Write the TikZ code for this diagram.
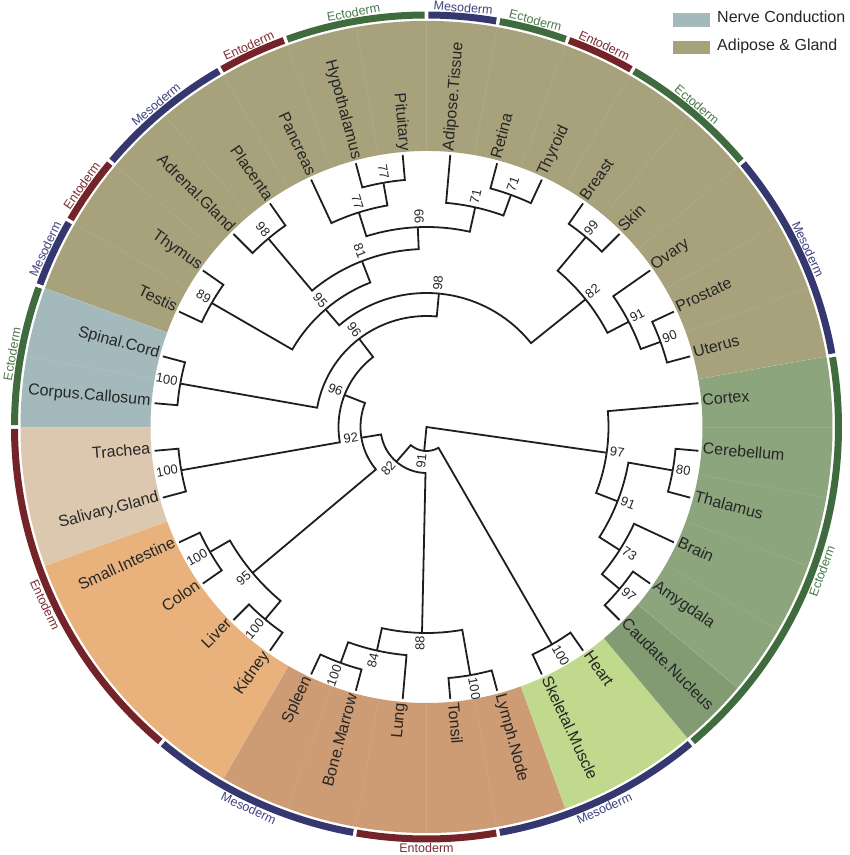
\documentclass[tikz,border=0pt]{standalone}
\usepackage{fontspec}
\setmainfont{Liberation Sans}
\definecolor{treeC}{HTML}{1E1E1E}
\definecolor{leafC}{HTML}{262626}
\definecolor{nerveC}{HTML}{A4B9BC}
\definecolor{adipC}{HTML}{A7A27B}
\definecolor{tanC}{HTML}{DCC8AF}
\definecolor{orangeC}{HTML}{E9B17B}
\definecolor{brownC}{HTML}{CD9B74}
\definecolor{lgreenC}{HTML}{C0D98D}
\definecolor{greenC}{HTML}{8CA57C}
\definecolor{greenD}{HTML}{839B73}
\definecolor{ectoC}{HTML}{3F6B3F}
\definecolor{mesoC}{HTML}{35386E}
\definecolor{entoC}{HTML}{742328}
\definecolor{ectoT}{HTML}{4A7A4A}
\definecolor{mesoT}{HTML}{3F4280}
\definecolor{entoT}{HTML}{7D2D33}
\newcommand\brch[4]{\draw[branch] (#1) -- ({#2}:{#3}) arc[start angle={#2}, end angle={#4}, radius={#3}];}
\newcommand\leafR[3]{\coordinate (t#1) at ({#2}:273); \node[leaf, rotate={#2}, anchor=mid west] (l#1) at ({#2}:277) {#3};}
\newcommand\leafL[3]{\coordinate (t#1) at ({#2}:273); \node[leaf, rotate={#2+180}, anchor=mid east] (l#1) at ({#2}:277) {#3};}
\newcommand\bootR[4]{\coordinate (#1) at ({#2}:{#3}); \node[boot, rotate={#2}, anchor=mid west] (b#1) at ({#2}:{#3+3}) {#4};}
\newcommand\bootL[4]{\coordinate (#1) at ({#2}:{#3}); \node[boot, rotate={#2+180}, anchor=mid east] (b#1) at ({#2}:{#3+3}) {#4};}
\newcommand\mysector[3]{\fill[#3] ({#1}:276) arc[start angle={#1}, end angle={#2}, radius=276] -- ({#2}:406) arc[start angle={#2}, end angle={#1}, radius=406] -- cycle;}
\newcommand\myring[3]{\draw[line width=7pt, draw=#3] ({#1+0.25}:412) arc[start angle={#1+0.25}, end angle={#2-0.25}, radius=412];}
\newcommand\germT[4]{\node[germ, text=#4, rotate={#2-90}, anchor=base] (#1) at ({#2}:416.5) {#3};}
\newcommand\germB[4]{\node[germ, text=#4, rotate={#2+90}, anchor=north] (#1) at ({#2}:416) {#3};}
\begin{document}
\begin{tikzpicture}[x=1pt,y=1pt,
  branch/.style={draw=treeC, line width=1.8pt, line join=miter},
  leaf/.style={font=\fontsize{16}{18}\selectfont, text=leafC, inner sep=0pt},
  boot/.style={font=\fontsize{13}{14}\selectfont, text=leafC, inner sep=0pt},
  germ/.style={font=\fontsize{12.5}{14}\selectfont, inner sep=0pt},
  sepline/.style={draw=white, opacity=0.12, line width=0.5pt},
  legbox/.style={minimum width=37pt, minimum height=14pt, inner sep=0pt, draw=none},
  legtext/.style={font=\fontsize{16}{18}\selectfont, text=leafC, inner sep=0pt, anchor=mid west}
]
\useasboundingbox (-426.5,-428) rectangle (423.5,427);
% coloured sectors
\mysector{10}{160}{adipC}
\mysector{160}{180}{nerveC}
\mysector{180}{200}{tanC}
\mysector{200}{240}{orangeC}
\mysector{240}{290}{brownC}
\mysector{290}{310}{lgreenC}
\mysector{310}{320}{greenD}
\mysector{320}{370}{greenC}
\foreach \a in {10,20,...,360} \draw[sepline] (\a:277) -- (\a:405);
% germ layer ring
\myring{-50}{10}{ectoC}
\myring{280}{310}{mesoC}
\myring{260}{280}{entoC}
\myring{230}{260}{mesoC}
\myring{180}{230}{entoC}
\myring{160}{180}{ectoC}
\myring{150}{160}{mesoC}
\myring{140}{150}{entoC}
\myring{120}{140}{mesoC}
\myring{110}{120}{entoC}
\myring{90}{110}{ectoC}
\myring{80}{90}{mesoC}
\myring{70}{80}{ectoC}
\myring{60}{70}{entoC}
\myring{40}{60}{ectoC}
\myring{10}{40}{mesoC}
\germB{g1}{-20}{Ectoderm}{ectoT}
\germB{g2}{295}{Mesoderm}{mesoT}
\germB{g3}{270}{Entoderm}{entoT}
\germB{g4}{245}{Mesoderm}{mesoT}
\germB{g5}{205}{Entoderm}{entoT}
\germT{g6}{170}{Ectoderm}{ectoT}
\germT{g7}{155}{Mesoderm}{mesoT}
\germT{g8}{145}{Entoderm}{entoT}
\germT{g9}{130}{Mesoderm}{mesoT}
\germT{g10}{115}{Entoderm}{entoT}
\germT{g11}{100}{Ectoderm}{ectoT}
\germT{g12}{85}{Mesoderm}{mesoT}
\germT{g13}{75}{Ectoderm}{ectoT}
\germT{g14}{65}{Entoderm}{entoT}
\germT{g15}{50}{Ectoderm}{ectoT}
\germT{g16}{25}{Mesoderm}{mesoT}
% leaves
\leafR{Adipose}{85}{Adipose.Tissue}
\leafR{Retina}{75}{Retina}
\leafR{Thyroid}{65}{Thyroid}
\leafR{Breast}{55}{Breast}
\leafR{Skin}{45}{Skin}
\leafR{Ovary}{35}{Ovary}
\leafR{Prostate}{25}{Prostate}
\leafR{Uterus}{15}{Uterus}
\leafR{Cortex}{5}{Cortex}
\leafR{Cerebellum}{-5}{Cerebellum}
\leafR{Thalamus}{-15}{Thalamus}
\leafR{Brain}{-25}{Brain}
\leafR{Amygdala}{-35}{Amygdala}
\leafR{Caudate}{-45}{Caudate.Nucleus}
\leafR{Heart}{-55}{Heart}
\leafR{Skeletal}{-65}{Skeletal.Muscle}
\leafR{Lymph}{-75}{Lymph.Node}
\leafR{Tonsil}{-85}{Tonsil}
\leafL{Lung}{265}{Lung}
\leafL{BoneMarrow}{255}{Bone.Marrow}
\leafL{Spleen}{245}{Spleen}
\leafL{Kidney}{235}{Kidney}
\leafL{Liver}{225}{Liver}
\leafL{Colon}{215}{Colon}
\leafL{SmallInt}{205}{Small.Intestine}
\leafL{Salivary}{195}{Salivary.Gland}
\leafL{Trachea}{185}{Trachea}
\leafL{Corpus}{175}{Corpus.Callosum}
\leafL{Spinal}{165}{Spinal.Cord}
\leafL{Testis}{155}{Testis}
\leafL{Thymus}{145}{Thymus}
\leafL{Adrenal}{135}{Adrenal.Gland}
\leafL{Placenta}{125}{Placenta}
\leafL{Pancreas}{115}{Pancreas}
\leafL{Hypothalamus}{105}{Hypothalamus}
\leafL{Pituitary}{95}{Pituitary}
% internal nodes with support values
\bootR{n71r}{70}{247}{71}
\bootR{n71a}{77.5}{225}{71}
\bootL{n77u}{100}{248}{77}
\bootL{n77l}{107.5}{225}{77}
\bootL{n66}{92.5}{200}{66}
\bootL{n98a}{130}{246}{98}
\bootL{n81}{111.25}{178}{81}
\bootL{n89}{150}{248}{89}
\bootL{n95u}{130.625}{155}{95}
\bootR{n99}{50}{248}{99}
\bootR{n90}{20}{249}{90}
\bootR{n91r}{27.5}{228}{91}
\bootR{n82r}{38.75}{204}{82}
\bootR{n98b}{84.6875}{134}{98}
\bootL{n100s}{170}{250}{100}
\bootL{n96u}{127.34}{111}{96}
\bootL{n100t}{190}{249}{100}
\bootL{n96l}{158.67}{88}{96}
\bootL{n100i}{210}{250}{100}
\bootL{n100l}{230}{251}{100}
\bootL{n95i}{220}{227}{95}
\bootL{n92}{189.34}{66}{92}
\bootL{n100sp}{250}{251}{100}
\bootL{n84}{257.5}{229}{84}
\bootR{n100to}{280}{252}{100}
\bootL{n88}{268.75}{206}{88}
\bootL{n82}{229.05}{46}{82}
\bootR{n100h}{300}{251}{100}
\bootL{n91c}{264.52}{24}{91}
\bootR{n97am}{-40}{252}{97}
\bootR{n73}{-32.5}{229}{73}
\bootR{n80}{-10}{250}{80}
\bootR{n91b}{-21.25}{205}{91}
\bootR{n97b}{-8.125}{182}{97}
\coordinate (root) at (0,0);
% branches
\brch{tRetina}{75}{247}{70}
\brch{tThyroid}{65}{247}{70}
\brch{tAdipose}{85}{225}{77.5}
\brch{n71r}{70}{225}{77.5}
\brch{tHypothalamus}{105}{248}{100}
\brch{tPituitary}{95}{248}{100}
\brch{tPancreas}{115}{225}{107.5}
\brch{n77u}{100}{225}{107.5}
\brch{n71a}{77.5}{200}{92.5}
\brch{n77l}{107.5}{200}{92.5}
\brch{tAdrenal}{135}{246}{130}
\brch{tPlacenta}{125}{246}{130}
\brch{n66}{92.5}{178}{111.25}
\brch{n98a}{130}{178}{111.25}
\brch{tThymus}{145}{248}{150}
\brch{tTestis}{155}{248}{150}
\brch{n81}{111.25}{155}{130.625}
\brch{n89}{150}{155}{130.625}
\brch{tBreast}{55}{248}{50}
\brch{tSkin}{45}{248}{50}
\brch{tProstate}{25}{249}{20}
\brch{tUterus}{15}{249}{20}
\brch{tOvary}{35}{228}{27.5}
\brch{n90}{20}{228}{27.5}
\brch{n99}{50}{204}{38.75}
\brch{n91r}{27.5}{204}{38.75}
\brch{n95u}{130.625}{134}{84.6875}
\brch{n82r}{38.75}{134}{84.6875}
\brch{tSpinal}{165}{250}{170}
\brch{tCorpus}{175}{250}{170}
\brch{n98b}{84.6875}{111}{127.34}
\brch{n100s}{170}{111}{127.34}
\brch{tTrachea}{185}{249}{190}
\brch{tSalivary}{195}{249}{190}
\brch{n96u}{127.34}{88}{158.67}
\brch{n100t}{190}{88}{158.67}
\brch{tSmallInt}{205}{250}{210}
\brch{tColon}{215}{250}{210}
\brch{tLiver}{225}{251}{230}
\brch{tKidney}{235}{251}{230}
\brch{n100i}{210}{227}{220}
\brch{n100l}{230}{227}{220}
\brch{n96l}{158.67}{66}{189.34}
\brch{n95i}{220}{66}{189.34}
\brch{tSpleen}{245}{251}{250}
\brch{tBoneMarrow}{255}{251}{250}
\brch{n100sp}{250}{229}{257.5}
\brch{tLung}{265}{229}{257.5}
\brch{tTonsil}{275}{252}{280}
\brch{tLymph}{285}{252}{280}
\brch{n84}{257.5}{206}{268.75}
\brch{n100to}{280}{206}{268.75}
\brch{n92}{189.34}{46}{229.05}
\brch{n88}{268.75}{46}{229.05}
\brch{tHeart}{305}{251}{300}
\brch{tSkeletal}{295}{251}{300}
\brch{n82}{229.05}{24}{264.52}
\brch{n100h}{300}{24}{264.52}
\brch{tAmygdala}{-35}{252}{-40}
\brch{tCaudate}{-45}{252}{-40}
\brch{tBrain}{-25}{229}{-32.5}
\brch{n97am}{-40}{229}{-32.5}
\brch{tCerebellum}{-5}{250}{-10}
\brch{tThalamus}{-15}{250}{-10}
\brch{n80}{-10}{205}{-21.25}
\brch{n73}{-32.5}{205}{-21.25}
\brch{tCortex}{5}{182}{-8.125}
\brch{n91b}{-21.25}{182}{-8.125}
\draw[branch] (n91c) -- (root) -- (n97b);
% legend
\node[legbox, fill=nerveC] (leg1) at (265,407) {};
\node[legtext] (leg1t) at (290.5,407) {Nerve Conduction};
\node[legbox, fill=adipC, minimum height=13pt] (leg2) at (265,379.5) {};
\node[legtext] (leg2t) at (290.5,379.5) {Adipose \& Gland};
\end{tikzpicture}
\end{document}
